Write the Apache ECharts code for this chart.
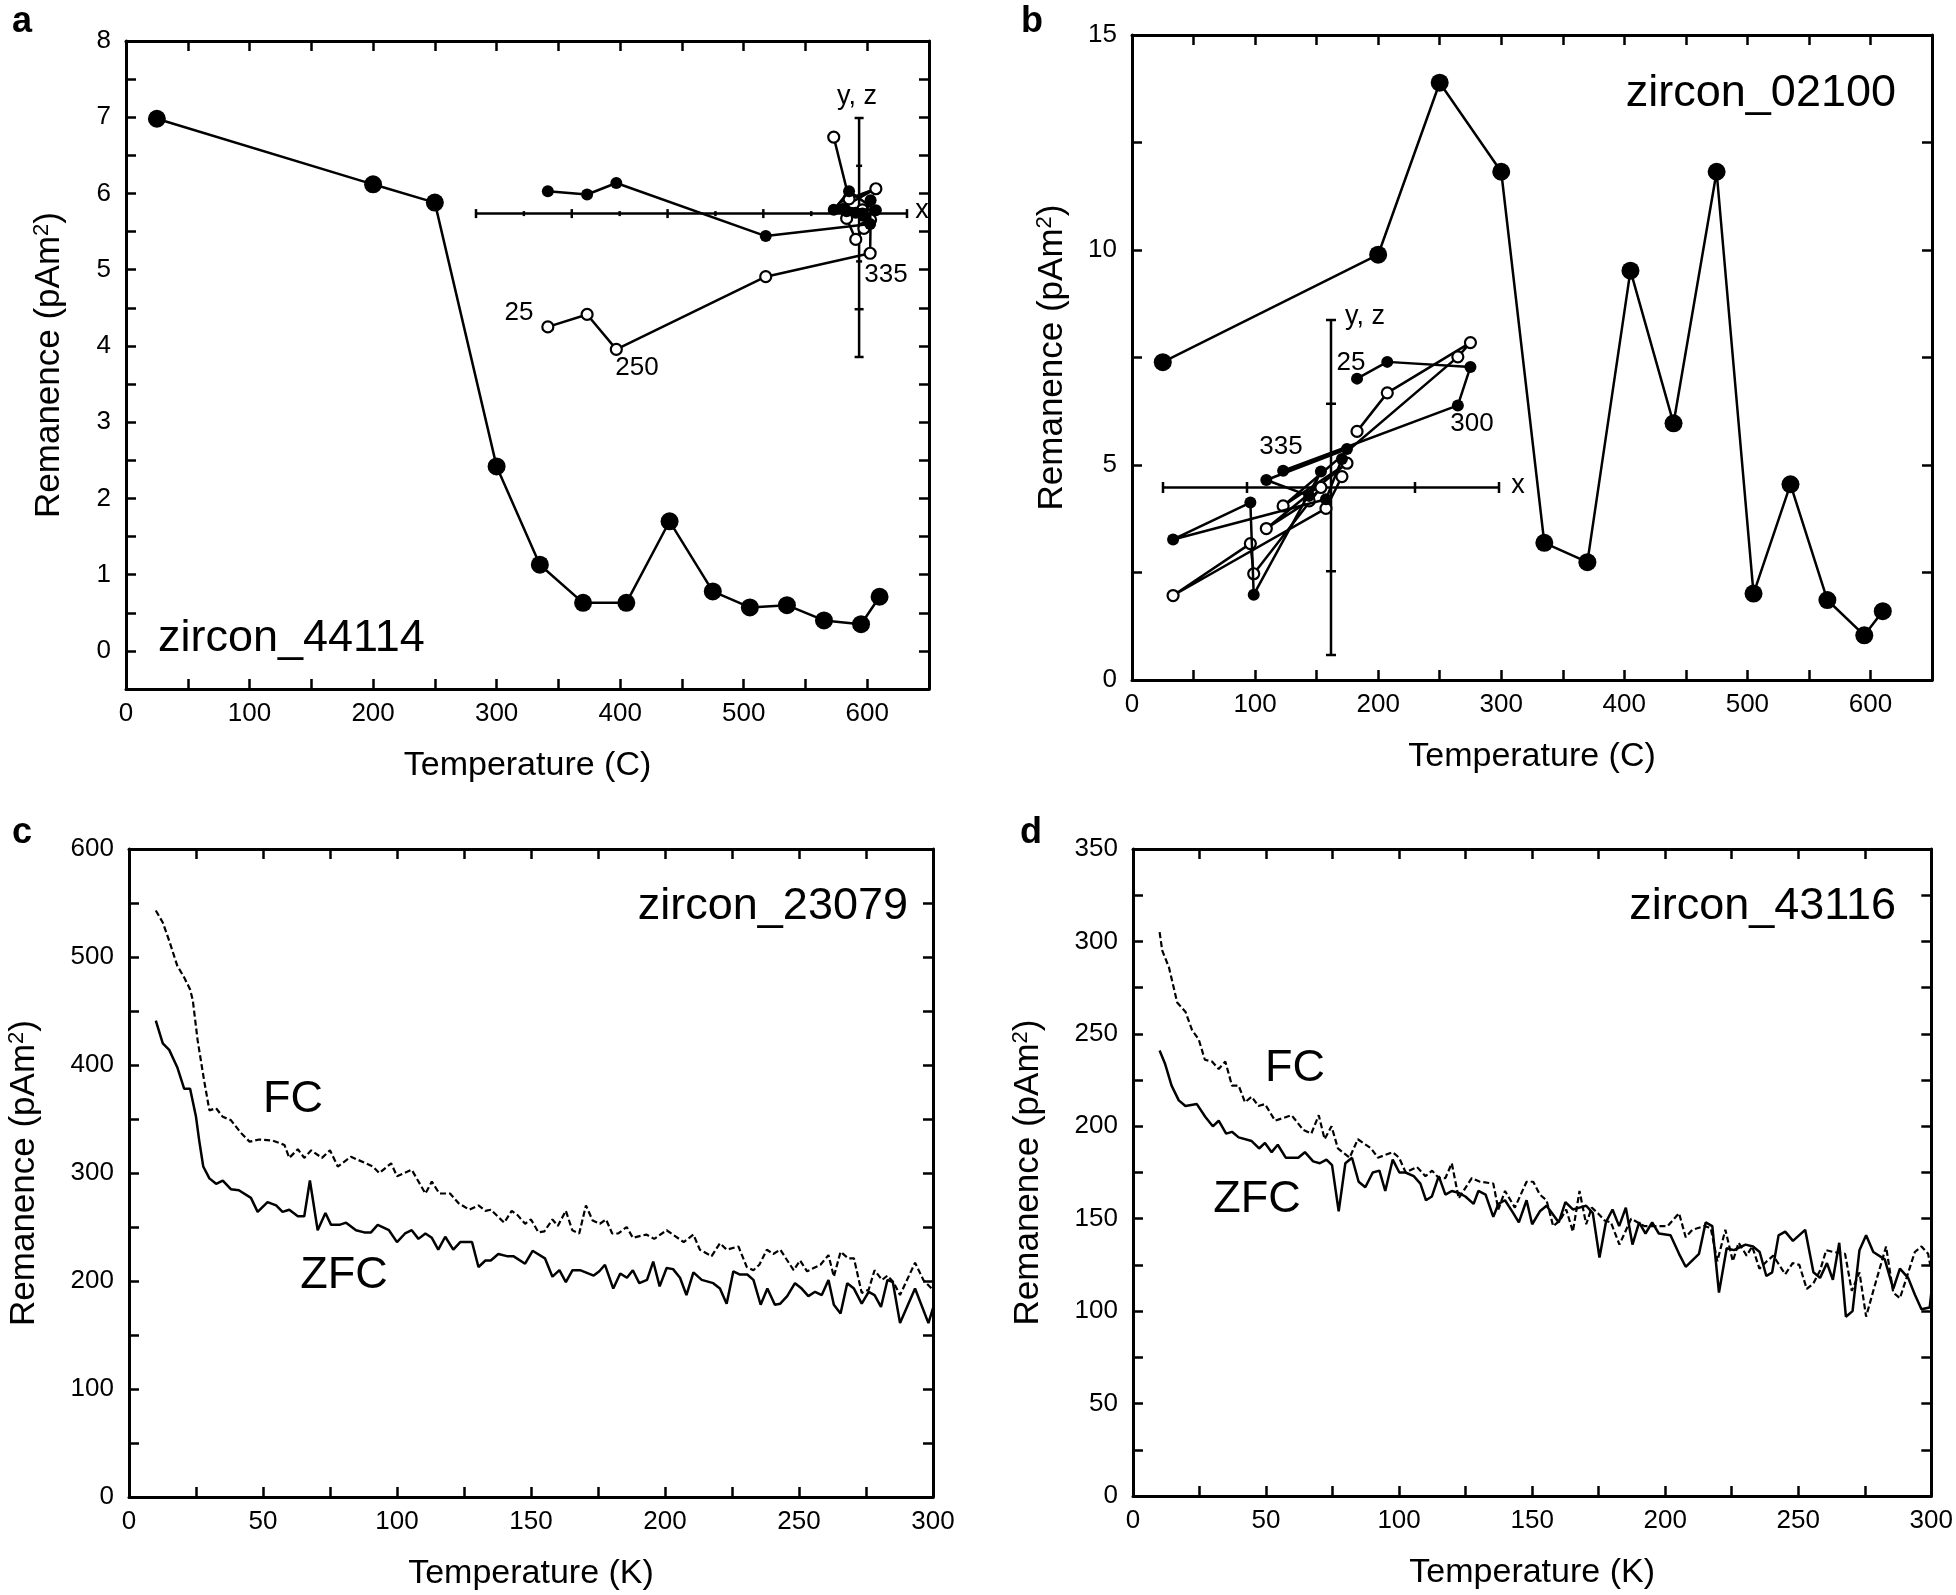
<!DOCTYPE html>
<html><head><meta charset="utf-8">
<script src="https://cdn.jsdelivr.net/npm/echarts@6/dist/echarts.min.js"></script>
<style>html,body{margin:0;padding:0;background:#fff}#c{width:1956px;height:1595px}</style>
</head><body><div id="c"></div>
<script>
// ---------- DATA ----------
// panel a : zircon_44114
const aTemp = [25,200,250,300,335,370,405,440,475,505,535,565,595,610];
const aRem  = [6.98,6.12,5.88,2.42,1.13,0.63,0.63,1.70,0.78,0.57,0.60,0.40,0.35,0.71];
// panel a inset (orthogonal projection, inset units)
const aZx = [-6.50,-5.68,-5.07,-1.95,0.23,0.24,0.10,-0.07,-0.26,0.07,-0.33,0.35,-0.21,-0.53];
const aZy = [0.47,0.40,0.64,-0.47,-0.22,0.28,-0.05,0.02,0.05,0.00,0.10,0.07,0.47,0.08];
const aZz = [-2.37,-2.11,-2.84,-1.32,-0.83,-0.13,-0.31,-0.54,-0.10,0.08,0.14,0.52,0.31,1.60];
const aInsetXRange = [-8, 1];
const aInsetYRange = [-3, 2];
const aInsetXTicks = [-8,-7,-6,-5,-4,-3,-2,-1,1];
const aInsetYTicks = [-3,-2,-1,1,2];

// panel b : zircon_02100
const bTemp = [25,200,250,300,335,370,405,440,475,505,535,565,595,610];
const bRem  = [7.39,9.89,13.89,11.82,3.19,2.74,9.52,5.97,11.82,2.01,4.55,1.86,1.04,1.60];
const bZx = [0.31,0.67,1.66,1.51,-0.57,0.19,-0.77,-0.26,-0.12,-0.92,-0.96,-1.88,-0.06,0.13];
const bZy = [1.30,1.50,1.44,0.98,0.20,0.46,0.09,-0.10,0.19,-1.28,-0.18,-0.62,-0.14,0.34];
const bZz = [0.67,1.13,1.73,1.56,-0.22,0.29,-0.49,-0.16,0.00,-1.03,-0.67,-1.29,-0.25,0.13];
const bInsetXRange = [-2, 2];
const bInsetYRange = [-2, 2];
const bInsetXTicks = [-2,-1,1,2];
const bInsetYTicks = [-2,-1,1,2];

// panel c : zircon_23079
const cFcT = [10,12.6,15,18,20.6,22.8,23.8,25.6,28,30,32.5,35,38,41.8,45,48.6,53.6,58,59.8,63,65.4,68,72,75,77.9,82.8,88.4,91,93.4,97.8,100,
 105.5,110.6,113,115.8,119.8,123,127,130.4,133,135,140,142.8,145,147.8,150,152.8,155,158,160,163,165.4,168,170.5,173,175.7,178,180.3,182.6,185.7,188,193,196,200.6,
 207,210.6,213,217.4,220.5,223,227.4,230.5,233,235.2,238,240.4,243,248,250.4,253,258,261,263,265.5,268.4,270.5,273.4,276,278.2,281,283,285.2,287.7,293.3,296.4,299.5];
const cFcV = [543,532,515,492,481,470,460,423,386,358,360,352,349,337,329,331,330,326,314,322,314,321,314,321,306,315,309,306,300,309,297,
 303,281,292,281,281,272,266,270,265,266,254,265,261,253,257,245,246,257,251,265,247,244,270,256,253,257,244,244,250,240,243,239,247,
 236,243,229,223,235,229,232,213,210,215,229,225,229,210,219,209,215,224,204,227,221,221,189,192,210,201,205,199,187,217,201,193];
const cZfcT = [10,12.6,15,18,20.6,22.8,25,26.2,27.7,30,32.5,35,38,41,45.5,48,51.7,54.9,57.3,59.8,63,65.4,67.5,70.4,73.3,75.4,78.5,81,84.7,87.8,90.3,92.8,97,100,
 103,105.5,108,110.6,113,115.4,118,121,123.6,128,130.4,133,135,137.8,141,143.4,147.8,150.6,155.2,158,160.6,163,165.5,168.3,173.4,175.5,177.6,180.7,183.3,185.8,188,190.4,193.3,195.6,198,200.6,203,205.6,
 208,210.6,213.7,218,220.5,223,225.5,228,230.7,233,235.7,238.2,241,243,245.6,248.5,251,253.5,256,258.5,261,263,265.5,268,270.5,273.4,276,278.2,280.6,283,285,287.7,293.3,298.3,300];
const cZfcV = [441,420,414,398,378,378,352,330,306,295,290,293,285,284,277,264,273,270,264,266,260,260,293,247,263,252,252,254,247,245,245,252,247,236,
 244,247,239,244,240,229,241,229,236,236,213,219,219,225,223,223,216,228,221,204,210,199,210,210,205,209,215,193,207,203,210,198,201,218,195,212,211,203,
 187,208,201,198,193,179,209,206,206,201,178,193,178,179,186,198,193,186,190,187,201,178,170,198,193,179,190,187,176,201,199,161,193,161,175];

// panel d : zircon_43116
const dFcT = [10,11,13.5,16.6,19.7,22.2,24.7,27,29.7,32.2,34.7,37.2,39.7,42.1,44.6,47.1,49.6,53.4,59.6,64,67,69.8,72,74.6,77,81.4,84.5,89.5,92,97.6,100,102.5,106.7,
 109.9,112.4,114.9,117.4,119.8,122.4,127.3,130.4,135.4,137.3,139.8,143.5,147.9,150.4,152.9,155.4,157.9,160.4,162.8,165.3,167.8,170.3,172.4,174.7,177.2,179.6,182.8,187.2,192.2,197.2,200.9,
 205.2,207.7,210.2,214.6,217.1,219.6,222.6,225.4,227.6,230.6,232.7,235.4,238.2,240.6,245.1,247.9,250.4,253.2,255.7,258.2,260.5,263.2,267.6,270.1,273,275.5,278.2,283,285.7,288.2,290.7,293.8,296.3,298.8,300];
const dFcV = [305,295,286,267,262,252,247,236,235,231,235,222,222,213,216,211,212,203,206,198,196,206,193,200,188,183,193,188,183,186,183,175,178,
 173,176,172,172,180,161,172,170,169,155,165,156,170,170,163,160,146,149,155,143,165,147,156,153,149,148,136,150,146,146,146,
 153,140,144,146,145,127,144,127,137,130,135,123,127,130,120,126,125,112,115,122,133,132,131,111,121,97,111,135,110,107,118,132,135,131,122];
const dZfcT = [10,12,14.5,17.2,19.7,24,27.2,30,32.2,35,37.2,39.7,44.6,47.4,49.6,52.1,54.4,57.4,62.1,64.6,67.7,70.2,72.7,74.8,77.3,79.8,82.3,84.8,87.3,90.1,92.6,94.8,97.6,100.1,
 102.4,105.5,108,110.1,112.3,114.9,117.4,119.8,122.4,124.9,128,129.8,132.5,135.4,137.3,139.8,142.9,145,147.9,150,152.9,155.4,157.5,160,162.5,165.3,167.8,170.3,172.8,175.3,177.7,180.2,182.7,185.2,187.7,190.2,192.6,195.1,197.6,202,
 205.2,207.7,212.7,215.2,217.7,220.2,223.1,225.8,230.2,233,235.5,238,240.2,242.6,245.1,248,252.6,255.7,258.2,260.8,263,265.4,267.9,270.4,273,275.5,278.2,282.5,285.7,288.2,291.3,293.8,296.3,299.4,300];
const dZfcV = [241,234,222,214,211,212,205,200,203,196,197,194,192,188,191,186,190,183,183,186,181,180,182,179,154,180,183,170,167,175,176,165,182,175,
 175,173,169,160,162,173,163,165,164,162,158,165,163,151,158,160,153,148,160,147,154,157,153,148,159,155,156,157,153,129,148,155,146,156,136,148,142,148,142,141,
 131,124,131,148,146,110,134,133,136,135,132,119,121,141,143,138,144,121,118,126,117,137,97,100,133,141,132,128,112,123,118,109,101,102,110];

// ---------- helpers ----------
const zip = (a, b) => a.map((v, i) => [v, b[i]]);
const FONT = 'Liberation Sans, Arial, Helvetica, sans-serif';
const BLK = '#000';
const tickStyle = { inside: true, length: 10, lineStyle: { color: BLK, width: 2.5 } };
const lineAx = { show: true, onZero: false, lineStyle: { color: BLK, width: 3 } };
const labelEvery = step => v => (Math.abs(v / step - Math.round(v / step)) < 1e-6 ? String(v) : '');
const yName = '{n|Remanence (pAm}{s|2}{n|)}';
const nameRich = { n: { fontSize: 35, fontFamily: FONT, color: BLK }, s: { fontSize: 22, fontFamily: FONT, color: BLK, verticalAlign: 'top', padding: [0, 0, 15, 0] } };

function mainX(grid, min, max, interval, labStep, name, gap) {
  return [
    { gridIndex: grid, type: 'value', position: 'bottom', min, max, interval,
      axisLine: lineAx, axisTick: tickStyle, splitLine: { show: false },
      axisLabel: { fontFamily: FONT, fontSize: 26, color: BLK, margin: 12, formatter: labelEvery(labStep) },
      name, nameLocation: 'middle', nameGap: gap, nameTextStyle: { fontFamily: FONT, fontSize: 34, color: BLK } },
    { gridIndex: grid, type: 'value', position: 'top', min, max, interval,
      axisLine: lineAx, axisTick: tickStyle, splitLine: { show: false }, axisLabel: { show: false } }
  ];
}
function mainY(grid, min, max, interval, labStep, gap) {
  return [
    { gridIndex: grid, type: 'value', position: 'left', min, max, interval,
      axisLine: lineAx, axisTick: tickStyle, splitLine: { show: false },
      axisLabel: { fontFamily: FONT, fontSize: 26, color: BLK, margin: 15, formatter: labelEvery(labStep) },
      name: yName, nameLocation: 'middle', nameGap: gap, nameTextStyle: { rich: nameRich } },
    { gridIndex: grid, type: 'value', position: 'right', min, max, interval,
      axisLine: lineAx, axisTick: tickStyle, splitLine: { show: false }, axisLabel: { show: false } }
  ];
}
function insetAxis(grid, range) {
  return { gridIndex: grid, type: 'value', min: range[0], max: range[1], show: false };
}
function axisSeg(xi, yi, pts) {
  return { type: 'line', xAxisIndex: xi, yAxisIndex: yi, data: pts, symbol: 'none', silent: true,
    lineStyle: { color: BLK, width: 2.5 }, z: 2 };
}
function ticks(xi, yi, vals, orient, range, bigH, smallH) {
  return { type: 'custom', xAxisIndex: xi, yAxisIndex: yi, clip: false, silent: true, z: 2,
    data: vals.map(v => [v, (v === range[0] || v === range[1] || v % 2 === 0) ? 1 : 0]),
    renderItem: (params, api) => {
      const v = api.value(0);
      const h = api.value(1) ? bigH : smallH;
      const p = orient === 'h' ? api.coord([v, 0]) : api.coord([0, v]);
      const shape = orient === 'h' ? { x1: p[0], y1: p[1] - h, x2: p[0], y2: p[1] + h }
                                   : { x1: p[0] - h, y1: p[1], x2: p[0] + h, y2: p[1] };
      return { type: 'line', shape, style: { stroke: BLK, lineWidth: 2.5 } };
    } };
}
function zPath(xi, yi, data, open) {
  return { type: 'line', xAxisIndex: xi, yAxisIndex: yi, data, symbol: 'circle', symbolSize: open ? 11 : 12,
    lineStyle: { color: BLK, width: 2.5 }, z: open ? 4 : 5,
    itemStyle: open ? { color: '#fff', borderColor: BLK, borderWidth: 2.2 } : { color: BLK } };
}
function txt(text, x, y, size, opt) {
  opt = opt || {};
  return { type: 'text', x, y, silent: true, z: 10,
    style: { text, fill: BLK, font: (opt.bold ? 'bold ' : '') + size + 'px ' + FONT,
      textAlign: opt.align || 'center', textVerticalAlign: 'middle', align: opt.align || 'center', verticalAlign: 'middle' } };
}

// ---------- option ----------
const xAxes = [].concat(
  mainX(0, 0, 650, 50, 100, 'Temperature (C)', 60),   // 0,1
  [insetAxis(1, aInsetXRange)],                      // 2
  mainX(2, 0, 650, 50, 100, 'Temperature (C)', 60),   // 3,4
  [insetAxis(3, bInsetXRange)],                      // 5
  mainX(4, 0, 300, 25, 50, 'Temperature (K)', 60),    // 6,7
  mainX(5, 0, 300, 25, 50, 'Temperature (K)', 60)     // 8,9
);
const yAxes = [].concat(
  mainY(0, -0.5, 8, 0.5, 1, 58),
  [insetAxis(1, aInsetYRange)],
  mainY(2, 0, 15, 2.5, 5, 61),
  [insetAxis(3, bInsetYRange)],
  mainY(4, 0, 600, 50, 100, 86),
  mainY(5, 0, 350, 25, 50, 86)
);

const option = {
  animation: false,
  backgroundColor: '#fff',
  grid: [
    { left: 126, top: 41, width: 803, height: 648 },
    { left: 476, top: 118, width: 431, height: 239 },
    { left: 1132, top: 35, width: 800, height: 645 },
    { left: 1163, top: 320, width: 336, height: 335 },
    { left: 129, top: 849, width: 804, height: 648 },
    { left: 1133, top: 849, width: 802, height: 647 }
  ],
  xAxis: xAxes,
  yAxis: yAxes,
  series: [
    // panel a
    { type: 'line', xAxisIndex: 0, yAxisIndex: 0, data: zip(aTemp, aRem), symbol: 'circle', symbolSize: 18,
      lineStyle: { color: BLK, width: 2.5 }, itemStyle: { color: BLK }, z: 5 },
    axisSeg(2, 2, [[aInsetXRange[0], 0], [aInsetXRange[1], 0]]),
    axisSeg(2, 2, [[0, aInsetYRange[0]], [0, aInsetYRange[1]]]),
    ticks(2, 2, aInsetXTicks, 'h', aInsetXRange, 4.5, 2.5),
    ticks(2, 2, aInsetYTicks, 'v', aInsetYRange, 4.5, 3),
    zPath(2, 2, zip(aZx, aZy), false),
    zPath(2, 2, zip(aZx, aZz), true),
    // panel b
    { type: 'line', xAxisIndex: 3, yAxisIndex: 3, data: zip(bTemp, bRem), symbol: 'circle', symbolSize: 18,
      lineStyle: { color: BLK, width: 2.5 }, itemStyle: { color: BLK }, z: 5 },
    axisSeg(5, 5, [[bInsetXRange[0], 0], [bInsetXRange[1], 0]]),
    axisSeg(5, 5, [[0, bInsetYRange[0]], [0, bInsetYRange[1]]]),
    ticks(5, 5, bInsetXTicks, 'h', bInsetXRange, 5.5, 5.5),
    ticks(5, 5, bInsetYTicks, 'v', bInsetYRange, 5, 5),
    zPath(5, 5, zip(bZx, bZy), false),
    zPath(5, 5, zip(bZx, bZz), true),
    // panel c
    { type: 'line', xAxisIndex: 6, yAxisIndex: 6, data: zip(cFcT, cFcV), symbol: 'none',
      lineStyle: { color: BLK, width: 2.2, type: [6, 3] } },
    { type: 'line', xAxisIndex: 6, yAxisIndex: 6, data: zip(cZfcT, cZfcV), symbol: 'none',
      lineStyle: { color: BLK, width: 2.5 } },
    // panel d
    { type: 'line', xAxisIndex: 8, yAxisIndex: 8, data: zip(dFcT, dFcV), symbol: 'none',
      lineStyle: { color: BLK, width: 2.2, type: [6, 3] } },
    { type: 'line', xAxisIndex: 8, yAxisIndex: 8, data: zip(dZfcT, dZfcV), symbol: 'none',
      lineStyle: { color: BLK, width: 2.5 } }
  ],
  graphic: [
    txt('a', 22, 22, 36, { bold: true }),
    txt('b', 1032, 22, 36, { bold: true }),
    txt('c', 22, 833, 36, { bold: true }),
    txt('d', 1031, 833, 36, { bold: true }),
    txt('zircon_44114', 158, 639, 45, { align: 'left' }),
    txt('zircon_02100', 1896, 94, 45, { align: 'right' }),
    txt('zircon_23079', 908, 907, 45, { align: 'right' }),
    txt('zircon_43116', 1896, 907, 45, { align: 'right' }),
    txt('FC', 293, 1100, 45),
    txt('ZFC', 344, 1276, 45),
    txt('FC', 1295, 1069, 45),
    txt('ZFC', 1257, 1200, 45),
    // inset a labels
    txt('y, z', 857, 97, 27),
    txt('x', 922, 211, 27),
    txt('25', 519, 313, 26),
    txt('250', 637, 368, 26),
    txt('335', 886, 275, 26),
    // inset b labels
    txt('y, z', 1365, 317, 27),
    txt('x', 1518, 486, 27),
    txt('25', 1351, 363, 26),
    txt('300', 1472, 424, 26),
    txt('335', 1281, 447, 26)
  ]
};
const chart = echarts.init(document.getElementById('c'), null, { renderer: 'canvas' });
chart.setOption(option);
</script>
</body></html>
